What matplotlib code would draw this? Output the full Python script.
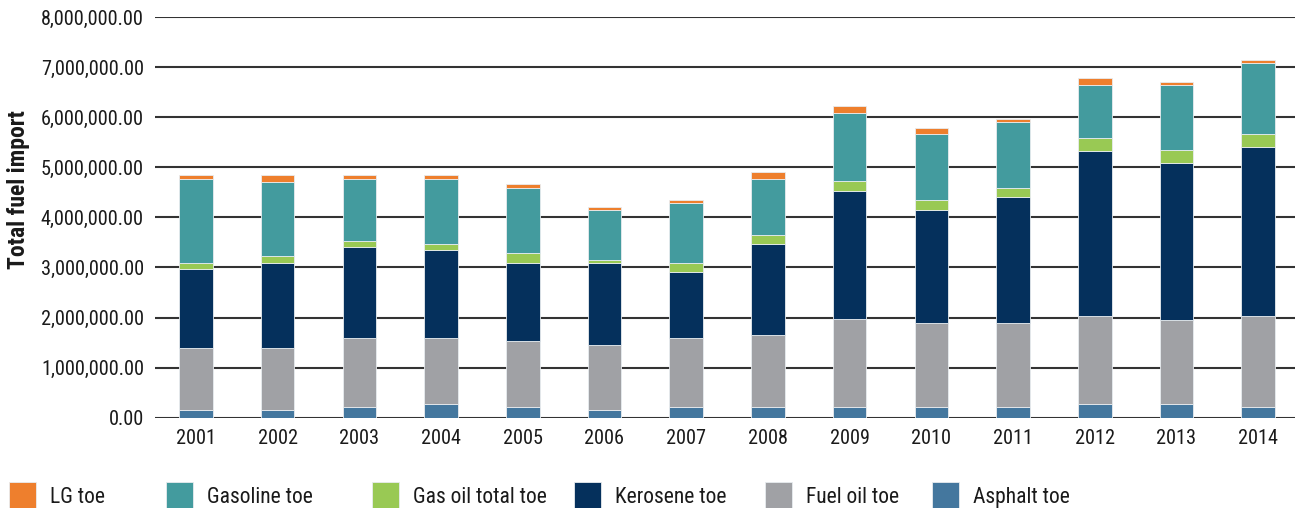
import numpy as np
import matplotlib
matplotlib.use("Agg")
from matplotlib import pyplot as plt
from matplotlib.ticker import FuncFormatter

plt.rcParams['font.family'] = ['Roboto Condensed', 'Fira Sans Condensed', 'DejaVu Sans']

# Data (toe)
years = ['2001', '2002', '2003', '2004', '2005', '2006', '2007',
         '2008', '2009', '2010', '2011', '2012', '2013', '2014']
asphalt = [150000, 150000, 220000, 280000, 220000, 150000, 220000,
           220000, 220000, 215000, 215000, 280000, 280000, 215000]
fuel_oil = [1250000, 1250000, 1370000, 1310000, 1310000, 1310000, 1370000,
            1440000, 1750000, 1685000, 1685000, 1750000, 1680000, 1815000]
kerosene = [1560000, 1690000, 1810000, 1750000, 1560000, 1630000, 1315000,
            1800000, 2550000, 2240000, 2500000, 3300000, 3120000, 3370000]
gas_oil = [130000, 130000, 130000, 130000, 200000, 60000, 185000,
           190000, 200000, 200000, 190000, 260000, 260000, 260000]
gasoline = [1680000, 1490000, 1240000, 1300000, 1290000, 1000000, 1190000,
            1120000, 1370000, 1320000, 1315000, 1060000, 1310000, 1420000]
lg = [70000, 130000, 70000, 70000, 80000, 60000, 60000,
      130000, 130000, 120000, 65000, 130000, 60000, 70000]

series = [
    ('Asphalt toe', asphalt, '#44779e'),
    ('Fuel oil toe', fuel_oil, '#a0a1a5'),
    ('Kerosene toe', kerosene, '#05305c'),
    ('Gas oil total toe', gas_oil, '#99c954'),
    ('Gasoline toe', gasoline, '#439b9e'),
    ('LG toe', lg, '#ee7f2d'),
]

fig = plt.figure(figsize=(12.95, 5.08), dpi=100)
ax = fig.add_axes([0.1197, 0.1776, 0.8803, 0.789])

x = np.arange(len(years))
bottom = np.zeros(len(years))
handles = {}
for name, vals, col in series:
    b = ax.bar(x, vals, width=0.41, bottom=bottom, color=col,
               edgecolor='#e8ecef', linewidth=0.6, zorder=3, label=name)
    handles[name] = b
    bottom += np.array(vals)

ax.set_ylim(0, 8000000)
ax.set_xlim(-0.5, 13.45)
ax.set_yticks(np.arange(0, 8000001, 1000000))
ax.yaxis.set_major_formatter(FuncFormatter(lambda v, p: '{:,.2f}'.format(v)))
ax.set_xticks(x)
ax.set_xticklabels(years)
ax.grid(axis='y', color='#333333', linewidth=1.5, zorder=0)
ax.set_axisbelow(True)
for s in ax.spines.values():
    s.set_visible(False)
ax.tick_params(axis='both', length=0, labelsize=14.6, colors='#1a1a1a')
ax.tick_params(axis='y', pad=8)
ax.tick_params(axis='x', pad=8)

ax.set_ylabel('Total fuel import', fontsize=17, fontweight='bold', color='#1a1a1a')
ax.yaxis.set_label_coords(-0.11, 0.569)

# legend entries placed one by one (uneven spacing in the original)
order = ['LG toe', 'Gasoline toe', 'Gas oil total toe', 'Kerosene toe',
         'Fuel oil toe', 'Asphalt toe']
leg_x = [9, 166, 372, 574, 765, 932]
for name, px in zip(order, leg_x):
    leg = fig.legend([handles[name]], [name], loc='center left',
                     bbox_to_anchor=(px / 1295, 0.023),
                     frameon=False, fontsize=15.5, handlelength=1.25,
                     handleheight=1.65, handletextpad=0.65,
                     borderpad=0, borderaxespad=0)
    leg.get_texts()[0].set_color('#1a1a1a')

fig.savefig('out.png', dpi=100)
